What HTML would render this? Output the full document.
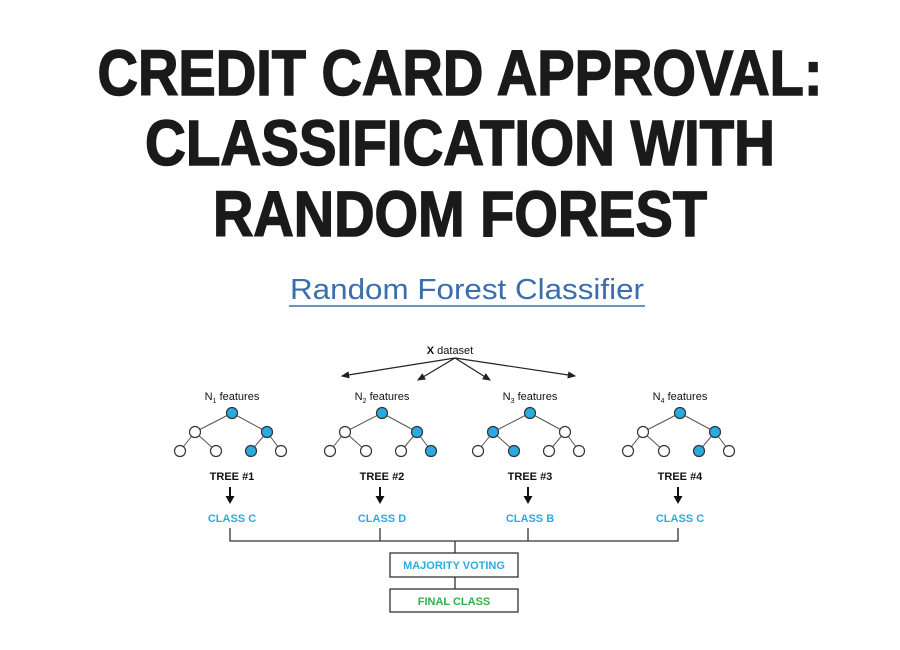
<!DOCTYPE html>
<html><head><style>body{margin:0;background:#fff}svg{display:block}</style></head><body>
<svg width="900" height="650" viewBox="0 0 900 650" xmlns="http://www.w3.org/2000/svg">
<defs><marker id="a" markerWidth="8" markerHeight="8" refX="6" refY="4" orient="auto"><path d="M0,1 L7,4 L0,7 Z" fill="#222"/></marker>
<g id="t" stroke="#555" stroke-width="1">
<line x1="0" y1="0" x2="-37" y2="19"/><line x1="0" y1="0" x2="35" y2="19"/>
<line x1="-37" y1="19" x2="-52" y2="38"/><line x1="-37" y1="19" x2="-16" y2="38"/>
<line x1="35" y1="19" x2="19" y2="38"/><line x1="35" y1="19" x2="49" y2="38"/>
</g>
<g id="d"><line x1="0" y1="487" x2="0" y2="497" stroke="#111" stroke-width="2"/><path d="M-4.5,496 L4.5,496 L0,504Z" fill="#111"/></g>
</defs>
<g font-family="Liberation Sans, sans-serif" font-weight="bold" font-size="64" fill="#1a1a1a" text-anchor="middle" stroke="#1a1a1a" stroke-width="1.5">
<text x="460" y="95" textLength="725" lengthAdjust="spacingAndGlyphs">CREDIT CARD APPROVAL:</text>
<text x="460" y="165" textLength="630" lengthAdjust="spacingAndGlyphs">CLASSIFICATION WITH</text>
<text x="460" y="236" textLength="494" lengthAdjust="spacingAndGlyphs">RANDOM FOREST</text>
</g>
<text x="467" y="299" font-family="Liberation Sans, sans-serif" font-size="29" fill="#3a6eae" text-anchor="middle" textLength="354" lengthAdjust="spacingAndGlyphs">Random Forest Classifier</text>
<line x1="289" y1="306" x2="645" y2="306" stroke="#3a6eae" stroke-width="1.5"/>
<g font-family="Liberation Sans, sans-serif" font-size="11" fill="#111" text-anchor="middle">
<text x="450" y="354"><tspan font-weight="bold">X</tspan> dataset</text>
<text x="232" y="400">N<tspan font-size="7" dy="3">1</tspan><tspan dy="-3"> features</tspan></text>
<text x="382" y="400">N<tspan font-size="7" dy="3">2</tspan><tspan dy="-3"> features</tspan></text>
<text x="530" y="400">N<tspan font-size="7" dy="3">3</tspan><tspan dy="-3"> features</tspan></text>
<text x="680" y="400">N<tspan font-size="7" dy="3">4</tspan><tspan dy="-3"> features</tspan></text>
<g font-weight="bold"><text x="232" y="480">TREE #1</text><text x="382" y="480">TREE #2</text><text x="530" y="480">TREE #3</text><text x="680" y="480">TREE #4</text></g>
<g font-weight="bold" fill="#29abe2"><text x="232" y="522">CLASS C</text><text x="382" y="522">CLASS D</text><text x="530" y="522">CLASS B</text><text x="680" y="522">CLASS C</text>
<text x="454" y="569">MAJORITY VOTING</text></g>
<text x="454" y="605" font-weight="bold" fill="#2db34a">FINAL CLASS</text>
</g>
<g stroke="#222" stroke-width="1.2" marker-end="url(#a)">
<line x1="455" y1="358" x2="342" y2="376"/><line x1="455" y1="358" x2="418" y2="380"/>
<line x1="455" y1="358" x2="490" y2="380"/><line x1="455" y1="358" x2="575" y2="376"/>
</g>
<use href="#d" x="230"/><use href="#d" x="380"/><use href="#d" x="528"/><use href="#d" x="678"/>
<g stroke="#333" stroke-width="1.3" fill="none">
<path d="M230 528V541H678V528M380 528V541M528 528V541M455 541V553M455 577V589"/>
<rect x="390" y="553" width="128" height="24"/><rect x="390" y="589" width="128" height="23"/>
</g>
<use href="#t" x="232" y="413"/><use href="#t" x="382" y="413"/><use href="#t" x="530" y="413"/><use href="#t" x="680" y="413"/>
<g stroke="#333" stroke-width="1.2">
<circle cx="232" cy="413" r="5.5" fill="#29abe2"/><circle cx="195" cy="432" r="5.5" fill="#fff"/><circle cx="267" cy="432" r="5.5" fill="#29abe2"/>
<circle cx="180" cy="451" r="5.5" fill="#fff"/><circle cx="216" cy="451" r="5.5" fill="#fff"/><circle cx="251" cy="451" r="5.5" fill="#29abe2"/><circle cx="281" cy="451" r="5.5" fill="#fff"/>
<circle cx="382" cy="413" r="5.5" fill="#29abe2"/><circle cx="345" cy="432" r="5.5" fill="#fff"/><circle cx="417" cy="432" r="5.5" fill="#29abe2"/>
<circle cx="330" cy="451" r="5.5" fill="#fff"/><circle cx="366" cy="451" r="5.5" fill="#fff"/><circle cx="401" cy="451" r="5.5" fill="#fff"/><circle cx="431" cy="451" r="5.5" fill="#29abe2"/>
<circle cx="530" cy="413" r="5.5" fill="#29abe2"/><circle cx="493" cy="432" r="5.5" fill="#29abe2"/><circle cx="565" cy="432" r="5.5" fill="#fff"/>
<circle cx="478" cy="451" r="5.5" fill="#fff"/><circle cx="514" cy="451" r="5.5" fill="#29abe2"/><circle cx="549" cy="451" r="5.5" fill="#fff"/><circle cx="579" cy="451" r="5.5" fill="#fff"/>
<circle cx="680" cy="413" r="5.5" fill="#29abe2"/><circle cx="643" cy="432" r="5.5" fill="#fff"/><circle cx="715" cy="432" r="5.5" fill="#29abe2"/>
<circle cx="628" cy="451" r="5.5" fill="#fff"/><circle cx="664" cy="451" r="5.5" fill="#fff"/><circle cx="699" cy="451" r="5.5" fill="#29abe2"/><circle cx="729" cy="451" r="5.5" fill="#fff"/>
</g>
</svg>
</body></html>
